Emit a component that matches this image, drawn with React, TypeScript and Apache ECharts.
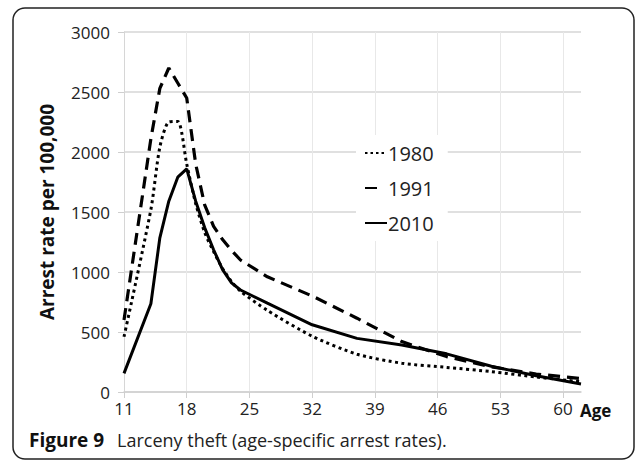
import React, { useEffect, useRef } from "react";
import * as echarts from "echarts";

// Age categories on the x axis (11 … 62)
const ageCategories: string[] = [];
for (let a = 11; a <= 62; a++) ageCategories.push(String(a));

// Ages at which the series are plotted
const sampleAges = [11, 14, 15, 16, 17, 18, 19, 20, 21, 22, 23, 24, 27, 32, 37, 42, 47, 52, 57, 62];
const rate1980 = [460, 1520, 2040, 2250, 2255, 1900, 1570, 1330, 1170, 1030, 920, 840, 680, 465, 315, 240, 205, 170, 125, 85];
const rate1991 = [600, 2110, 2530, 2700, 2575, 2450, 1900, 1560, 1380, 1270, 1180, 1100, 960, 800, 615, 420, 295, 210, 150, 112];
const rate2010 = [155, 735, 1285, 1590, 1790, 1860, 1590, 1370, 1185, 1020, 910, 850, 740, 560, 447, 392, 318, 215, 135, 67];

const seriesNames = ["1980", "1991", "2010"];
const yTicks = { min: 0, max: 3000, interval: 500 };

function toCategorySeries(values: number[]): (number | null)[] {
  const out: (number | null)[] = ageCategories.map(() => null);
  sampleAges.forEach((age, i) => {
    out[ageCategories.indexOf(String(age))] = values[i];
  });
  return out;
}

const FONT = '"Open Sans", "Noto Sans", sans-serif';

export default function App() {
  const ref = useRef<HTMLDivElement>(null);
  useEffect(() => {
    const chart = echarts.init(ref.current!, null, { renderer: "svg" });
    chart.setOption({
      animation: false,
      backgroundColor: "#fff",
      textStyle: { fontFamily: FONT },
      grid: { left: 124, right: 56, top: 32, bottom: 68 },
      xAxis: {
        type: "category",
        data: ageCategories,
        boundaryGap: false,
        axisLine: { show: true, lineStyle: { color: "#cfcfcf", width: 1.5 } },
        axisTick: { show: true, interval: 6, length: 6, lineStyle: { color: "#cfcfcf" } },
        axisLabel: { interval: 6, margin: 8, color: "#222", fontSize: 17, fontFamily: FONT },
        splitLine: { show: true, interval: 6, lineStyle: { color: "#e8e8e8", width: 1 } },
      },
      yAxis: {
        type: "value",
        min: yTicks.min,
        max: yTicks.max,
        interval: yTicks.interval,
        axisLine: { show: true, lineStyle: { color: "#d6d6d6", width: 1 } },
        axisTick: { show: true, length: 6, lineStyle: { color: "#cfcfcf" } },
        axisLabel: {
          margin: 14,
          color: "#222",
          fontSize: 17,
          fontFamily: FONT,
          formatter: (v: number) => String(v),
        },
        splitLine: { show: true, lineStyle: { color: "#d6d6d6", width: 1.5 } },
      },
      legend: {
        orient: "vertical",
        left: 356,
        top: 135,
        padding: [8, 14, 8, 8],
        backgroundColor: "#fff",
        itemWidth: 22,
        itemHeight: 12,
        itemGap: 15,
        itemStyle: { opacity: 0 },
        textStyle: { fontSize: 20, color: "#222", fontFamily: FONT, padding: [0, 0, 0, -4] },
        data: [
          { name: seriesNames[0], lineStyle: { type: [2.5, 3, 2.5, 3, 2.5, 3, 2.5, 20] } },
          { name: seriesNames[1], lineStyle: { type: [12, 20] } },
          { name: seriesNames[2] },
        ],
      },
      series: [
        {
          name: seriesNames[0],
          type: "line",
          data: toCategorySeries(rate1980),
          connectNulls: true,
          smooth: 0.25,
          symbol: "none",
          lineStyle: { color: "#000", width: 3, type: [3, 3.5] },
          itemStyle: { color: "#000" },
        },
        {
          name: seriesNames[1],
          type: "line",
          data: toCategorySeries(rate1991),
          connectNulls: true,
          symbol: "none",
          lineStyle: { color: "#000", width: 3.2, type: [12, 7] },
          itemStyle: { color: "#000" },
        },
        {
          name: seriesNames[2],
          type: "line",
          data: toCategorySeries(rate2010),
          connectNulls: true,
          symbol: "none",
          lineStyle: { color: "#000", width: 3 },
          itemStyle: { color: "#000" },
        },
      ],
      graphic: [
        {
          type: "rect",
          silent: true,
          shape: { x: 13, y: 8, width: 621, height: 451, r: 12 },
          style: { fill: "none", stroke: "#222", lineWidth: 1.5 },
        },
        {
          type: "text",
          x: 47,
          y: 212,
          rotation: Math.PI / 2,
          style: {
            text: "Arrest rate per 100,000",
            font: `bold 19px ${FONT}`,
            fill: "#111",
            textAlign: "center",
            textVerticalAlign: "middle",
          },
        },
        {
          type: "text",
          x: 580,
          y: 410,
          style: {
            text: "Age",
            font: `bold 17px ${FONT}`,
            fill: "#111",
            textAlign: "left",
            textVerticalAlign: "middle",
          },
        },
        {
          type: "text",
          x: 29,
          y: 440,
          style: {
            text: "Figure 9",
            font: `bold 19px ${FONT}`,
            fill: "#111",
            textAlign: "left",
            textVerticalAlign: "middle",
          },
        },
        {
          type: "text",
          x: 117,
          y: 440,
          style: {
            text: "Larceny theft (age-specific arrest rates).",
            font: `18px ${FONT}`,
            fill: "#222",
            textAlign: "left",
            textVerticalAlign: "middle",
          },
        },
      ],
    });
    return () => chart.dispose();
  }, []);
  return (
    <div
      ref={ref}
      style={{ position: "absolute", left: 0, top: 0, width: 637, height: 460, background: "#fff" }}
    />
  );
}
